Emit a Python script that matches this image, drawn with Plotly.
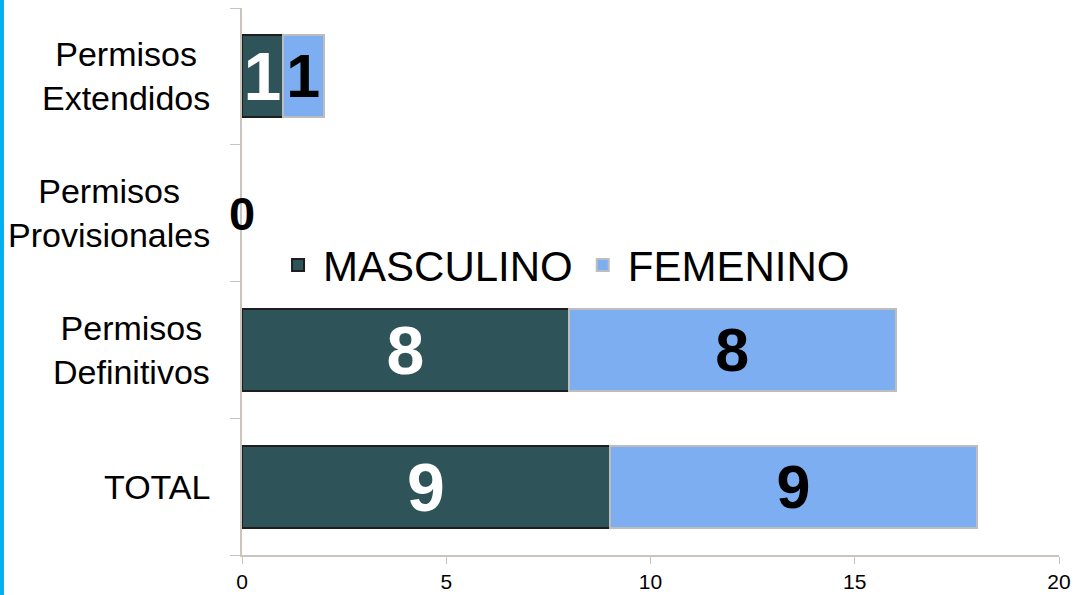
import plotly.graph_objects as go

categorias = ["TOTAL", "Permisos<br>Definitivos", "Permisos<br>Provisionales", "Permisos<br>Extendidos"]
masculino = [9, 8, 0, 1]
femenino = [9, 8, 0, 1]
x_ticks = [0, 5, 10, 15, 20]

FUENTE = "Liberation Sans, Arial"


def main():
    fig = go.Figure()
    fig.add_trace(go.Bar(
        y=categorias, x=masculino, orientation="h", name="MASCULINO",
        marker=dict(color="#2E5459",
                    line=dict(color="#1E1E1E", width=[2 if v else 0 for v in masculino])),
        text=[str(v) if v else "" for v in masculino],
        textposition="inside", insidetextanchor="middle", constraintext="none", textangle=0,
        textfont=dict(family=FUENTE, size=68, color="white", weight="bold"),
        width=0.6,
    ))
    fig.add_trace(go.Bar(
        y=categorias, x=femenino, orientation="h", name="FEMENINO",
        marker=dict(color="#7EAEF2",
                    line=dict(color="#BDBDBD", width=[2 if v else 0 for v in femenino])),
        text=[str(v) if v else "" for v in femenino],
        textposition="inside", insidetextanchor="middle", constraintext="none", textangle=0,
        textfont=dict(family=FUENTE, size=61, color="black", weight="bold"),
        width=0.6,
    ))

    # etiquetas de categoria (centradas por linea) y el cero
    for cat, m, f in zip(categorias, masculino, femenino):
        fig.add_annotation(
            x=-0.0367, xref="paper", y=cat, yref="y", text=cat,
            xanchor="right", align="center", showarrow=False,
            font=dict(family=FUENTE, size=34, color="black"),
        )
        if m + f == 0:
            fig.add_annotation(
                x=0, y=cat, text="0", showarrow=False, xanchor="center",
                font=dict(family=FUENTE, size=47, color="black", weight="bold"),
            )

    # linea azul del borde de la diapositiva
    fig.add_shape(type="line", xref="paper", yref="paper",
                  x0=-0.2938, x1=-0.2938, y0=-0.08, y1=1.02,
                  line=dict(color="#00B0F0", width=4))

    fig.update_layout(
        width=1078, height=595,
        barmode="stack", bargap=0.4,
        plot_bgcolor="white", paper_bgcolor="white",
        margin=dict(l=242, r=19, t=8, b=40, autoexpand=False),
        font=dict(family=FUENTE, color="black"),
        showlegend=True,
        legend=dict(orientation="h", x=0.038, xanchor="left", y=0.53, yanchor="middle",
                    font=dict(size=42), bgcolor="rgba(0,0,0,0)", itemwidth=40,
                    traceorder="normal"),
        xaxis=dict(range=[0, 20], tickvals=x_ticks, showgrid=False, zeroline=False,
                   showline=True, linecolor="#C9C5BD", linewidth=1.5, automargin=False,
                   ticks="outside", ticklen=7, tickcolor="#C9C5BD",
                   tickfont=dict(size=21, color="black")),
        yaxis=dict(categoryorder="array", categoryarray=categorias, range=[-0.5, 3.5],
                   showgrid=False, zeroline=False, showline=True, linecolor="#C9C5BD",
                   linewidth=1.5, ticks="outside", ticklen=10, tickcolor="#C9C5BD",
                   tickson="boundaries", showticklabels=False, automargin=False),
    )
    fig.write_html("out.html", config={"displayModeBar": False},
                   post_script="document.body.style.margin = '0';")


if __name__ == '__main__':
    main()
